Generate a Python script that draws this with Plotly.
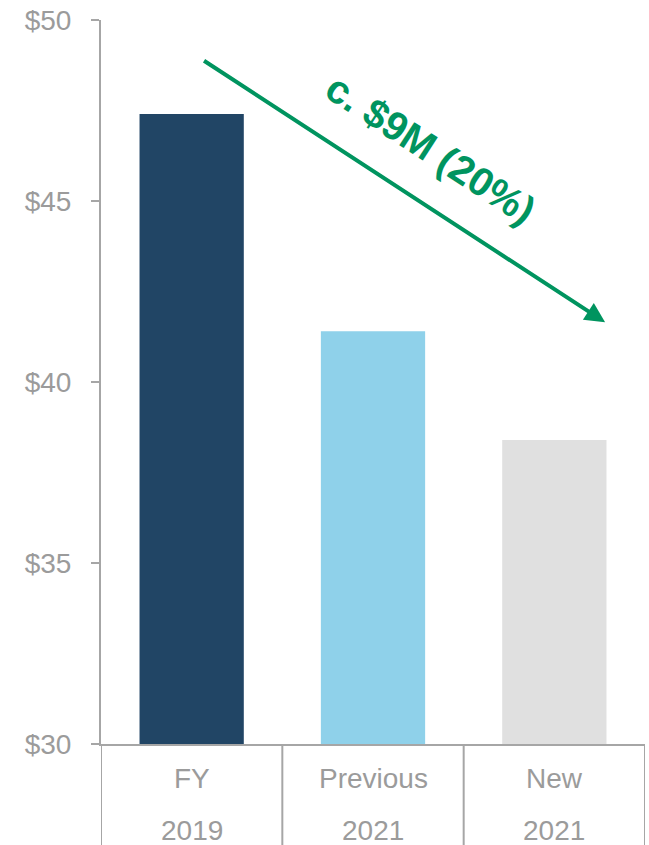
import plotly.graph_objects as go

# Categories shown on the two-row category axis
cat_top = ["FY", "Previous", "New"]
cat_bottom = ["2019", "2021", "2021"]
values = [47.4, 41.4, 38.4]
bar_colors = ["#214565", "#8FD1EA", "#E0E0E0"]

y_ticks = [30, 35, 40, 45, 50]
y_tick_text = ["$30", "$35", "$40", "$45", "$50"]

change_label = "c. $9M (20%)"

AXIS_GREY = "#A6A6A6"
TEXT_GREY = "#9B9B9B"
GREEN = "#00945F"
FONT = "Liberation Sans, Arial, sans-serif"

xs = list(range(len(cat_top)))

fig = go.Figure(
    go.Bar(
        x=xs,
        y=values,
        marker=dict(color=bar_colors, line=dict(width=0)),
        width=0.575,
        hoverinfo="skip",
    )
)

fig.update_layout(
    width=649,
    height=845,
    margin=dict(l=101, r=4, t=20, b=101),
    paper_bgcolor="white",
    plot_bgcolor="white",
    showlegend=False,
    font=dict(family=FONT, size=28, color=TEXT_GREY),
)

fig.update_xaxes(
    range=[-0.5, len(cat_top) - 0.5],
    showticklabels=False,
    showgrid=False,
    zeroline=False,
    showline=True,
    linecolor=AXIS_GREY,
    linewidth=2,
    ticks="",
)
fig.update_yaxes(
    range=[30, 50],
    tickvals=y_ticks,
    ticktext=y_tick_text,
    ticks="outside",
    ticklen=8,
    tickwidth=2,
    tickcolor=AXIS_GREY,
    ticklabelstandoff=14,
    showgrid=False,
    zeroline=False,
    showline=True,
    linecolor=AXIS_GREY,
    linewidth=2,
    tickfont=dict(family=FONT, size=28, color=TEXT_GREY),
)

# Divider lines of the category table beneath the plot
for b in [i - 0.5 for i in range(len(cat_top) + 1)]:
    fig.add_shape(
        type="line", xref="x", yref="paper",
        x0=b, x1=b, y0=0, y1=-0.2,
        line=dict(color=AXIS_GREY, width=2),
        layer="above",
    )

# Two-row category labels, positioned below the plot area
plot_h = 845 - 20 - 101
row_offsets = [(778 - 744) / plot_h, (830 - 744) / plot_h]
for labels, off in zip([cat_top, cat_bottom], row_offsets):
    for i in xs:
        fig.add_annotation(
            x=i, y=-off, xref="x", yref="paper",
            text=labels[i], showarrow=False,
            font=dict(family=FONT, size=28, color=TEXT_GREY),
            yanchor="middle",
        )

# Downward trend arrow with its label
fig.add_annotation(
    x=2.28, y=values[2] + 3.25,
    ax=0.06, ay=values[0] + 1.5,
    xref="x", yref="y", axref="x", ayref="y",
    text="", showarrow=True,
    arrowhead=2, arrowsize=1.0, arrowwidth=4, arrowcolor=GREEN,
)
fig.add_annotation(
    x=1.32, y=46.45, xref="x", yref="y",
    text="<b>" + change_label + "</b>", showarrow=False,
    textangle=33,
    font=dict(family=FONT, size=40, color=GREEN),
)

fig.write_html("out.html")
